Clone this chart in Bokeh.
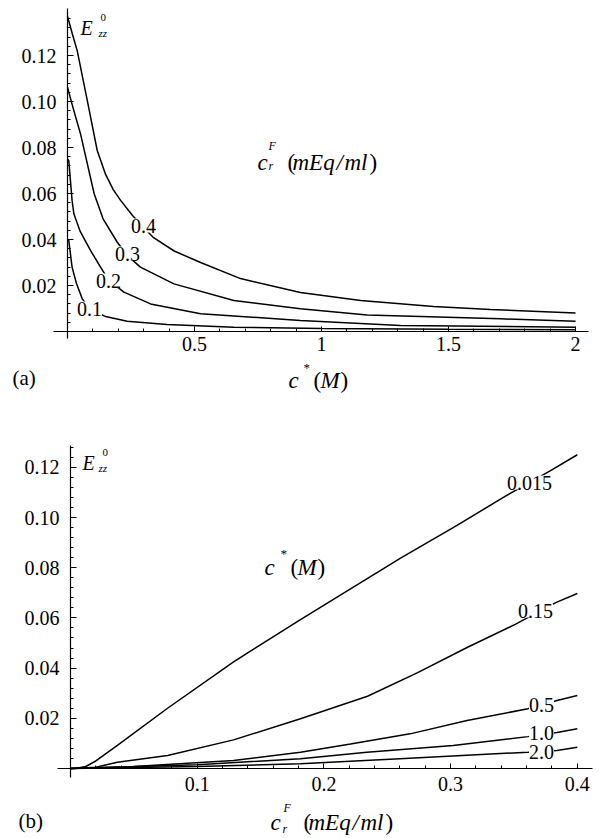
from bokeh.plotting import figure
from bokeh.layouts import column
from bokeh.models import Range1d, FixedTicker, CustomJSTickFormatter, Label
from bokeh.embed import file_html
from bokeh.resources import INLINE

FONT = "Liberation Serif, Times New Roman, serif"

# ---------------- data: panel (a)  E_zz^0 vs c* (M), one curve per c_r^F ----------------
a_curve_names = ["0.4", "0.3", "0.2", "0.1"]
a_x_04 = [0, 0.02, 0.038, 0.078, 0.117, 0.15, 0.18, 0.209, 0.256, 0.30, 0.339, 0.42, 0.524, 0.681, 0.917, 1.154, 1.441, 1.665, 2.0]
a_y_04 = [0.137, 0.129, 0.1222, 0.1004, 0.0787, 0.0683, 0.0617, 0.057, 0.0504, 0.0452, 0.0408, 0.0350, 0.0300, 0.0230, 0.0170, 0.0135, 0.0109, 0.0096, 0.0080]
a_x_03 = [0, 0.02, 0.051, 0.105, 0.14, 0.196, 0.236, 0.287, 0.419, 0.655, 0.917, 1.18, 1.705, 2.0]
a_y_03 = [0.1062, 0.098, 0.086, 0.0599, 0.0490, 0.0388, 0.0330, 0.0280, 0.0207, 0.0135, 0.0099, 0.0072, 0.0055, 0.0045]
a_x_02 = [0, 0.005, 0.018, 0.025, 0.05, 0.091, 0.130, 0.161, 0.222, 0.327, 0.524, 0.917, 1.311, 2.0]
a_y_02 = [0.075, 0.0743, 0.057, 0.0512, 0.0435, 0.0352, 0.028, 0.0225, 0.0171, 0.012, 0.0077, 0.0048, 0.0026, 0.0019]
a_x_01 = [0, 0.005, 0.018, 0.035, 0.058, 0.087, 0.150, 0.235, 0.392, 0.655, 1.0, 1.5, 2.0]
a_y_01 = [0.040, 0.0396, 0.028, 0.021, 0.0142, 0.010, 0.0065, 0.0045, 0.003, 0.0019, 0.0013, 0.001, 0.0008]

a_x_ticks = [0.5, 1, 1.5, 2]
a_x_tick_labels = ["0.5", "1", "1.5", "2"]
a_y_ticks = [0.02, 0.04, 0.06, 0.08, 0.10, 0.12]
a_y_tick_labels = ["0.02", "0.04", "0.06", "0.08", "0.10", "0.12"]

# ---------------- data: panel (b)  E_zz^0 vs c_r^F, one curve per c* ----------------
b_curve_names = ["0.015", "0.15", "0.5", "1.0", "2.0"]
b_x_0015 = [0, 0.005, 0.012, 0.02, 0.037, 0.0766, 0.1287, 0.1815, 0.2605, 0.3054, 0.3433, 0.3789, 0.40]
b_y_0015 = [0, 0.0001, 0.0008, 0.003, 0.0092, 0.0240, 0.0425, 0.0593, 0.0838, 0.0970, 0.1085, 0.1187, 0.1250]
b_x_015 = [0, 0.02, 0.037, 0.0766, 0.1287, 0.1815, 0.2344, 0.274, 0.313, 0.351, 0.383, 0.40]
b_y_015 = [0, 0.0005, 0.0025, 0.0052, 0.0114, 0.0198, 0.0288, 0.0382, 0.0482, 0.0574, 0.0661, 0.0697]
b_x_05 = [0, 0.05, 0.1287, 0.1815, 0.221, 0.268, 0.313, 0.361, 0.384, 0.40]
b_y_05 = [0, 0.0008, 0.0032, 0.0065, 0.0098, 0.0138, 0.0191, 0.0238, 0.0271, 0.0291]
b_x_10 = [0, 0.1, 0.1815, 0.234, 0.302, 0.361, 0.384, 0.40]
b_y_10 = [0, 0.0015, 0.0039, 0.0065, 0.0092, 0.0127, 0.0143, 0.0158]
b_x_20 = [0, 0.1, 0.1815, 0.26, 0.361, 0.384, 0.40]
b_y_20 = [0, 0.0008, 0.0019, 0.0039, 0.0065, 0.0072, 0.0085]

b_x_ticks = [0.1, 0.2, 0.3, 0.4]
b_x_tick_labels = ["0.1", "0.2", "0.3", "0.4"]
b_y_ticks = [0.02, 0.04, 0.06, 0.08, 0.10, 0.12]
b_y_tick_labels = ["0.02", "0.04", "0.06", "0.08", "0.10", "0.12"]

# ---------------- layout geometry (page pixels) ----------------
# origin of data (ox, oy) in page px, px per data unit (sx, sy),
# axis extents (al, ar, at, ab) and the figure box (left, top, w, h)
A = dict(ox=67, oy=331, sx=254.0, sy=2300.0, al=53, ar=588, at=8, ab=338, left=0, top=0, w=600, h=408)
B = dict(ox=70, oy=768, sx=1267.0, sy=2510.0, al=57, ar=592, at=445, ab=777, left=0, top=408, w=600, h=428)


def px_x(G, px):
    return (px - G["ox"]) / G["sx"]


def px_y(G, py):
    return (G["oy"] - py) / G["sy"]


def make_fig(G, x_ticks, x_minor, x_labels, y_ticks, y_minor, y_labels, x_standoff):
    p = figure(width=G["w"], height=G["h"],
               x_range=Range1d(px_x(G, G["left"]), px_x(G, G["left"] + G["w"])),
               y_range=Range1d(px_y(G, G["top"] + G["h"]), px_y(G, G["top"])),
               output_backend="svg", toolbar_location=None, min_border=0)
    p.grid.visible = False
    p.outline_line_color = None
    p.background_fill_color = "white"
    p.border_fill_color = "white"
    p.xaxis.fixed_location = 0
    p.yaxis.fixed_location = 0
    p.xaxis.bounds = (px_x(G, G["al"]), px_x(G, G["ar"]))
    p.yaxis.bounds = (px_y(G, G["ab"]), px_y(G, G["at"]))
    p.xaxis.ticker = FixedTicker(ticks=x_ticks, minor_ticks=x_minor)
    p.yaxis.ticker = FixedTicker(ticks=y_ticks, minor_ticks=y_minor)
    p.xaxis.formatter = CustomJSTickFormatter(args=dict(labels=x_labels), code="return labels[index];")
    p.yaxis.formatter = CustomJSTickFormatter(args=dict(labels=y_labels), code="return labels[index];")
    for ax, tin in ((p.xaxis, 5), (p.yaxis, 6)):
        ax.axis_line_color = "black"
        ax.axis_line_width = 1.2
        ax.major_tick_line_color = "black"
        ax.minor_tick_line_color = "black"
        ax.major_tick_in = tin
        ax.major_tick_out = 0
        ax.minor_tick_in = 3
        ax.minor_tick_out = 0
        ax.major_label_text_font = FONT
        ax.major_label_text_font_size = "20px"
        ax.major_label_text_color = "black"
    p.xaxis.major_label_standoff = x_standoff
    p.yaxis.major_label_standoff = 11
    return p


def txt(p, G, px, py, s, size, italic=False, align="left", baseline="alphabetic", bg=None):
    p.add_layout(Label(x=px_x(G, px), y=px_y(G, py), text=s, text_font=FONT,
                       text_font_size=f"{size}px",
                       text_font_style="italic" if italic else "normal",
                       text_align=align, text_baseline=baseline, text_color="black",
                       background_fill_color=bg))


# ---------------- panel (a) ----------------
a_x_minor = [round(0.1 * i, 2) for i in range(1, 21)]
a_y_minor = [round(0.004 * i, 3) for i in range(1, 35)]
pA = make_fig(A, a_x_ticks, a_x_minor, a_x_tick_labels, a_y_ticks, a_y_minor, a_y_tick_labels, 5)
for xs, ys in ((a_x_04, a_y_04), (a_x_03, a_y_03), (a_x_02, a_y_02), (a_x_01, a_y_01)):
    pA.line(xs, ys, line_color="black", line_width=1.5)

for name, (cx, cy) in zip(a_curve_names, [(143, 225), (127, 253), (108, 280), (89, 308)]):
    txt(pA, A, cx, cy, name, 20, align="center", baseline="middle", bg="white")

txt(pA, A, 80, 27, "E", 20, italic=True)
txt(pA, A, 100, 17, "0", 11)
txt(pA, A, 98, 32, "zz", 11, italic=True)

txt(pA, A, 257, 162, "c", 23, italic=True)
txt(pA, A, 268, 145, "F", 12, italic=True)
txt(pA, A, 268, 165, "r", 12, italic=True)
txt(pA, A, 287, 162, "(", 23)
txt(pA, A, 292, 162, "mEq", 23, italic=True)
txt(pA, A, 336, 162, "/", 23, italic=True)
txt(pA, A, 344, 162, "ml", 23, italic=True)
txt(pA, A, 369, 162, ")", 23)

txt(pA, A, 288, 380, "c", 23, italic=True)
txt(pA, A, 303, 367, "*", 13)
txt(pA, A, 313, 380, "(", 23)
txt(pA, A, 320, 380, "M", 23, italic=True)
txt(pA, A, 340, 380, ")", 23)
txt(pA, A, 12, 377, "(a)", 21)

# ---------------- panel (b) ----------------
b_x_minor = [round(0.02 * i, 2) for i in range(1, 21)]
b_y_minor = [round(0.004 * i, 3) for i in range(1, 33)]
pB = make_fig(B, b_x_ticks, b_x_minor, b_x_tick_labels, b_y_ticks, b_y_minor, b_y_tick_labels, 8)
for xs, ys in ((b_x_0015, b_y_0015), (b_x_015, b_y_015), (b_x_05, b_y_05), (b_x_10, b_y_10), (b_x_20, b_y_20)):
    pB.line(xs, ys, line_color="black", line_width=1.5)

for name, (cx, cy) in zip(b_curve_names, [(529, 482), (535, 610), (541, 704), (541, 732), (541, 751)]):
    txt(pB, B, cx, cy, name, 20, align="center", baseline="middle", bg="white")

txt(pB, B, 82, 462, "E", 20, italic=True)
txt(pB, B, 102, 452, "0", 11)
txt(pB, B, 98, 467, "zz", 11, italic=True)

txt(pB, B, 264, 567, "c", 23, italic=True)
txt(pB, B, 280, 553, "*", 13)
txt(pB, B, 290, 567, "(", 23)
txt(pB, B, 297, 567, "M", 23, italic=True)
txt(pB, B, 317, 567, ")", 23)

txt(pB, B, 270, 822, "c", 23, italic=True)
txt(pB, B, 283, 807, "F", 12, italic=True)
txt(pB, B, 282, 828, "r", 12, italic=True)
txt(pB, B, 303, 822, "(", 23)
txt(pB, B, 308, 822, "mEq", 23, italic=True)
txt(pB, B, 352, 822, "/", 23, italic=True)
txt(pB, B, 360, 822, "ml", 23, italic=True)
txt(pB, B, 385, 822, ")", 23)
txt(pB, B, 18, 820, "(b)", 21)

layout = column(pA, pB)
open("out.html", "w").write(file_html(layout, INLINE))
